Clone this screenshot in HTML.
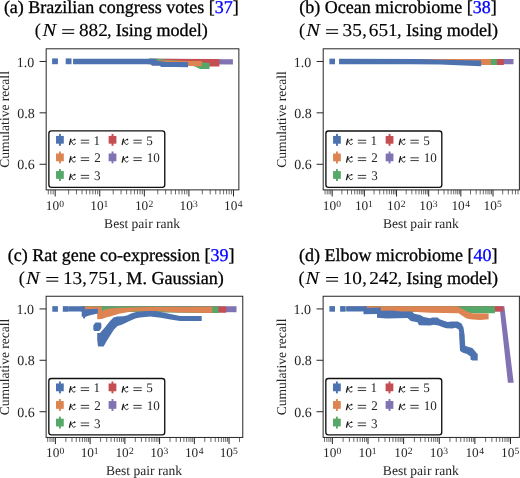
<!DOCTYPE html>
<html><head><meta charset="utf-8"><style>
html,body{margin:0;padding:0;background:#fff;}
svg{display:block;font-family:"Liberation Serif",serif;will-change:transform;text-rendering:geometricPrecision;}
.t{stroke:#000;stroke-width:0.3px;}
.tm{stroke:#000;stroke-width:0.12px;}
</style></head><body>
<svg width="520" height="478" viewBox="0 0 520 478">
<rect width="520" height="478" fill="#fff"/>
<text class="t" x="3.88" y="12.70" font-size="18.0" fill="#000">(a) Brazilian congress votes [<tspan fill="#0000FF" stroke="#0000FF">37</tspan>]</text>
<text x="34.67" y="36.10" font-size="18.2" fill="#000" class="tm">(</text>
<text transform="translate(42.40,36.10) scale(1.12,1)" font-size="18.3" font-style="italic" fill="#000" class="tm">N</text>
<line x1="62.20" y1="29.75" x2="74.20" y2="29.75" stroke="#000" stroke-width="1.05"/>
<line x1="62.20" y1="33.35" x2="74.20" y2="33.35" stroke="#000" stroke-width="1.05"/>
<text transform="translate(78.93,36.10) scale(1.06,1)" font-size="18.2" fill="#000" class="tm">882</text>
<text x="107.07" y="36.10" font-size="18.2" fill="#000" class="tm">,</text>
<text x="115.78" y="36.10" font-size="18.1" fill="#000" class="t">Ising model)</text>
<text class="t" x="299.28" y="12.70" font-size="18.0" fill="#000">(b) Ocean microbiome [<tspan fill="#0000FF" stroke="#0000FF">38</tspan>]</text>
<text x="298.97" y="36.10" font-size="18.2" fill="#000" class="tm">(</text>
<text transform="translate(306.30,36.10) scale(1.12,1)" font-size="18.3" font-style="italic" fill="#000" class="tm">N</text>
<line x1="326.10" y1="29.75" x2="338.10" y2="29.75" stroke="#000" stroke-width="1.05"/>
<line x1="326.10" y1="33.35" x2="338.10" y2="33.35" stroke="#000" stroke-width="1.05"/>
<text transform="translate(342.54,36.10) scale(1.06,1)" font-size="18.2" fill="#000" class="tm">35</text>
<text x="362.17" y="36.10" font-size="18.2" fill="#000" class="tm">,</text>
<text transform="translate(368.83,36.10) scale(1.06,1)" font-size="18.2" fill="#000" class="tm">651</text>
<text x="397.07" y="36.10" font-size="18.2" fill="#000" class="tm">,</text>
<text x="406.08" y="36.10" font-size="18.1" fill="#000" class="t">Ising model)</text>
<text class="t" x="7.68" y="260.50" font-size="18.0" fill="#000">(c) Rat gene co-expression [<tspan fill="#0000FF" stroke="#0000FF">39</tspan>]</text>
<text x="18.77" y="283.90" font-size="18.2" fill="#000" class="tm">(</text>
<text transform="translate(26.00,283.90) scale(1.12,1)" font-size="18.3" font-style="italic" fill="#000" class="tm">N</text>
<line x1="46.30" y1="277.55" x2="58.30" y2="277.55" stroke="#000" stroke-width="1.05"/>
<line x1="46.30" y1="281.15" x2="58.30" y2="281.15" stroke="#000" stroke-width="1.05"/>
<text transform="translate(62.96,283.90) scale(1.06,1)" font-size="18.2" fill="#000" class="tm">13</text>
<text x="82.27" y="283.90" font-size="18.2" fill="#000" class="tm">,</text>
<text transform="translate(88.55,283.90) scale(1.06,1)" font-size="18.2" fill="#000" class="tm">751</text>
<text x="117.87" y="283.90" font-size="18.2" fill="#000" class="tm">,</text>
<text x="126.36" y="283.90" font-size="18.1" fill="#000" class="t">M. Gaussian)</text>
<text class="t" x="299.08" y="260.50" font-size="18.0" fill="#000">(d) Elbow microbiome [<tspan fill="#0000FF" stroke="#0000FF">40</tspan>]</text>
<text x="298.47" y="283.90" font-size="18.2" fill="#000" class="tm">(</text>
<text transform="translate(305.40,283.90) scale(1.12,1)" font-size="18.3" font-style="italic" fill="#000" class="tm">N</text>
<line x1="326.10" y1="277.55" x2="338.10" y2="277.55" stroke="#000" stroke-width="1.05"/>
<line x1="326.10" y1="281.15" x2="338.10" y2="281.15" stroke="#000" stroke-width="1.05"/>
<text transform="translate(342.66,283.90) scale(1.06,1)" font-size="18.2" fill="#000" class="tm">10</text>
<text x="362.17" y="283.90" font-size="18.2" fill="#000" class="tm">,</text>
<text transform="translate(369.13,283.90) scale(1.06,1)" font-size="18.2" fill="#000" class="tm">242</text>
<text x="397.57" y="283.90" font-size="18.2" fill="#000" class="tm">,</text>
<text x="406.18" y="283.90" font-size="18.1" fill="#000" class="t">Ising model)</text>
<line x1="48.30" y1="189.87" x2="48.30" y2="194.37" stroke="#444" stroke-width="0.8"/>
<line x1="50.88" y1="189.87" x2="50.88" y2="194.37" stroke="#444" stroke-width="0.8"/>
<line x1="53.16" y1="189.87" x2="53.16" y2="194.37" stroke="#444" stroke-width="0.8"/>
<line x1="68.62" y1="189.87" x2="68.62" y2="194.37" stroke="#444" stroke-width="0.8"/>
<line x1="76.47" y1="189.87" x2="76.47" y2="194.37" stroke="#444" stroke-width="0.8"/>
<line x1="82.03" y1="189.87" x2="82.03" y2="194.37" stroke="#444" stroke-width="0.8"/>
<line x1="86.35" y1="189.87" x2="86.35" y2="194.37" stroke="#444" stroke-width="0.8"/>
<line x1="89.88" y1="189.87" x2="89.88" y2="194.37" stroke="#444" stroke-width="0.8"/>
<line x1="92.87" y1="189.87" x2="92.87" y2="194.37" stroke="#444" stroke-width="0.8"/>
<line x1="95.45" y1="189.87" x2="95.45" y2="194.37" stroke="#444" stroke-width="0.8"/>
<line x1="97.73" y1="189.87" x2="97.73" y2="194.37" stroke="#444" stroke-width="0.8"/>
<line x1="113.19" y1="189.87" x2="113.19" y2="194.37" stroke="#444" stroke-width="0.8"/>
<line x1="121.04" y1="189.87" x2="121.04" y2="194.37" stroke="#444" stroke-width="0.8"/>
<line x1="126.60" y1="189.87" x2="126.60" y2="194.37" stroke="#444" stroke-width="0.8"/>
<line x1="130.92" y1="189.87" x2="130.92" y2="194.37" stroke="#444" stroke-width="0.8"/>
<line x1="134.45" y1="189.87" x2="134.45" y2="194.37" stroke="#444" stroke-width="0.8"/>
<line x1="137.44" y1="189.87" x2="137.44" y2="194.37" stroke="#444" stroke-width="0.8"/>
<line x1="140.02" y1="189.87" x2="140.02" y2="194.37" stroke="#444" stroke-width="0.8"/>
<line x1="142.30" y1="189.87" x2="142.30" y2="194.37" stroke="#444" stroke-width="0.8"/>
<line x1="157.76" y1="189.87" x2="157.76" y2="194.37" stroke="#444" stroke-width="0.8"/>
<line x1="165.61" y1="189.87" x2="165.61" y2="194.37" stroke="#444" stroke-width="0.8"/>
<line x1="171.17" y1="189.87" x2="171.17" y2="194.37" stroke="#444" stroke-width="0.8"/>
<line x1="175.49" y1="189.87" x2="175.49" y2="194.37" stroke="#444" stroke-width="0.8"/>
<line x1="179.02" y1="189.87" x2="179.02" y2="194.37" stroke="#444" stroke-width="0.8"/>
<line x1="182.01" y1="189.87" x2="182.01" y2="194.37" stroke="#444" stroke-width="0.8"/>
<line x1="184.59" y1="189.87" x2="184.59" y2="194.37" stroke="#444" stroke-width="0.8"/>
<line x1="186.87" y1="189.87" x2="186.87" y2="194.37" stroke="#444" stroke-width="0.8"/>
<line x1="202.33" y1="189.87" x2="202.33" y2="194.37" stroke="#444" stroke-width="0.8"/>
<line x1="210.18" y1="189.87" x2="210.18" y2="194.37" stroke="#444" stroke-width="0.8"/>
<line x1="215.74" y1="189.87" x2="215.74" y2="194.37" stroke="#444" stroke-width="0.8"/>
<line x1="220.06" y1="189.87" x2="220.06" y2="194.37" stroke="#444" stroke-width="0.8"/>
<line x1="223.59" y1="189.87" x2="223.59" y2="194.37" stroke="#444" stroke-width="0.8"/>
<line x1="226.58" y1="189.87" x2="226.58" y2="194.37" stroke="#444" stroke-width="0.8"/>
<line x1="229.16" y1="189.87" x2="229.16" y2="194.37" stroke="#444" stroke-width="0.8"/>
<line x1="231.44" y1="189.87" x2="231.44" y2="194.37" stroke="#444" stroke-width="0.8"/>
<line x1="55.20" y1="189.87" x2="55.20" y2="196.47" stroke="#262626" stroke-width="1.0"/>
<text x="45.80" y="209.52" font-size="13.3" fill="#262626">10</text>
<text x="59.32" y="206.57" font-size="9.6" fill="#262626">0</text>
<line x1="99.77" y1="189.87" x2="99.77" y2="196.47" stroke="#262626" stroke-width="1.0"/>
<text x="90.37" y="209.52" font-size="13.3" fill="#262626">10</text>
<text x="103.41" y="206.57" font-size="9.6" fill="#262626">1</text>
<line x1="144.34" y1="189.87" x2="144.34" y2="196.47" stroke="#262626" stroke-width="1.0"/>
<text x="134.94" y="209.52" font-size="13.3" fill="#262626">10</text>
<text x="148.46" y="206.57" font-size="9.6" fill="#262626">2</text>
<line x1="188.91" y1="189.87" x2="188.91" y2="196.47" stroke="#262626" stroke-width="1.0"/>
<text x="179.51" y="209.52" font-size="13.3" fill="#262626">10</text>
<text x="192.93" y="206.57" font-size="9.6" fill="#262626">3</text>
<line x1="233.48" y1="189.87" x2="233.48" y2="196.47" stroke="#262626" stroke-width="1.0"/>
<text x="224.08" y="209.52" font-size="13.3" fill="#262626">10</text>
<text x="237.79" y="206.57" font-size="9.6" fill="#262626">4</text>
<line x1="39.57" y1="61.48" x2="46.17" y2="61.48" stroke="#262626" stroke-width="1.0"/>
<text x="16.64" y="66.68" font-size="14.0" fill="#262626">1.0</text>
<line x1="39.57" y1="112.83" x2="46.17" y2="112.83" stroke="#262626" stroke-width="1.0"/>
<text x="17.34" y="118.03" font-size="14.0" fill="#262626">0.8</text>
<line x1="39.57" y1="164.28" x2="46.17" y2="164.28" stroke="#262626" stroke-width="1.0"/>
<text x="17.34" y="169.48" font-size="14.0" fill="#262626">0.6</text>
<text x="142.12" y="227.77" font-size="13.55" text-anchor="middle" fill="#262626">Best pair rank</text>
<text x="0" y="0" font-size="13.55" text-anchor="middle" fill="#262626" transform="translate(9.30,119.44) rotate(-90)">Cumulative recall</text>
<line x1="325.07" y1="189.90" x2="325.07" y2="194.40" stroke="#444" stroke-width="0.8"/>
<line x1="327.22" y1="189.90" x2="327.22" y2="194.40" stroke="#444" stroke-width="0.8"/>
<line x1="329.08" y1="189.90" x2="329.08" y2="194.40" stroke="#444" stroke-width="0.8"/>
<line x1="330.73" y1="189.90" x2="330.73" y2="194.40" stroke="#444" stroke-width="0.8"/>
<line x1="341.88" y1="189.90" x2="341.88" y2="194.40" stroke="#444" stroke-width="0.8"/>
<line x1="347.54" y1="189.90" x2="347.54" y2="194.40" stroke="#444" stroke-width="0.8"/>
<line x1="351.56" y1="189.90" x2="351.56" y2="194.40" stroke="#444" stroke-width="0.8"/>
<line x1="354.68" y1="189.90" x2="354.68" y2="194.40" stroke="#444" stroke-width="0.8"/>
<line x1="357.23" y1="189.90" x2="357.23" y2="194.40" stroke="#444" stroke-width="0.8"/>
<line x1="359.38" y1="189.90" x2="359.38" y2="194.40" stroke="#444" stroke-width="0.8"/>
<line x1="361.24" y1="189.90" x2="361.24" y2="194.40" stroke="#444" stroke-width="0.8"/>
<line x1="362.89" y1="189.90" x2="362.89" y2="194.40" stroke="#444" stroke-width="0.8"/>
<line x1="374.04" y1="189.90" x2="374.04" y2="194.40" stroke="#444" stroke-width="0.8"/>
<line x1="379.70" y1="189.90" x2="379.70" y2="194.40" stroke="#444" stroke-width="0.8"/>
<line x1="383.72" y1="189.90" x2="383.72" y2="194.40" stroke="#444" stroke-width="0.8"/>
<line x1="386.84" y1="189.90" x2="386.84" y2="194.40" stroke="#444" stroke-width="0.8"/>
<line x1="389.39" y1="189.90" x2="389.39" y2="194.40" stroke="#444" stroke-width="0.8"/>
<line x1="391.54" y1="189.90" x2="391.54" y2="194.40" stroke="#444" stroke-width="0.8"/>
<line x1="393.40" y1="189.90" x2="393.40" y2="194.40" stroke="#444" stroke-width="0.8"/>
<line x1="395.05" y1="189.90" x2="395.05" y2="194.40" stroke="#444" stroke-width="0.8"/>
<line x1="406.20" y1="189.90" x2="406.20" y2="194.40" stroke="#444" stroke-width="0.8"/>
<line x1="411.86" y1="189.90" x2="411.86" y2="194.40" stroke="#444" stroke-width="0.8"/>
<line x1="415.88" y1="189.90" x2="415.88" y2="194.40" stroke="#444" stroke-width="0.8"/>
<line x1="419.00" y1="189.90" x2="419.00" y2="194.40" stroke="#444" stroke-width="0.8"/>
<line x1="421.55" y1="189.90" x2="421.55" y2="194.40" stroke="#444" stroke-width="0.8"/>
<line x1="423.70" y1="189.90" x2="423.70" y2="194.40" stroke="#444" stroke-width="0.8"/>
<line x1="425.56" y1="189.90" x2="425.56" y2="194.40" stroke="#444" stroke-width="0.8"/>
<line x1="427.21" y1="189.90" x2="427.21" y2="194.40" stroke="#444" stroke-width="0.8"/>
<line x1="438.36" y1="189.90" x2="438.36" y2="194.40" stroke="#444" stroke-width="0.8"/>
<line x1="444.02" y1="189.90" x2="444.02" y2="194.40" stroke="#444" stroke-width="0.8"/>
<line x1="448.04" y1="189.90" x2="448.04" y2="194.40" stroke="#444" stroke-width="0.8"/>
<line x1="451.16" y1="189.90" x2="451.16" y2="194.40" stroke="#444" stroke-width="0.8"/>
<line x1="453.71" y1="189.90" x2="453.71" y2="194.40" stroke="#444" stroke-width="0.8"/>
<line x1="455.86" y1="189.90" x2="455.86" y2="194.40" stroke="#444" stroke-width="0.8"/>
<line x1="457.72" y1="189.90" x2="457.72" y2="194.40" stroke="#444" stroke-width="0.8"/>
<line x1="459.37" y1="189.90" x2="459.37" y2="194.40" stroke="#444" stroke-width="0.8"/>
<line x1="470.52" y1="189.90" x2="470.52" y2="194.40" stroke="#444" stroke-width="0.8"/>
<line x1="476.18" y1="189.90" x2="476.18" y2="194.40" stroke="#444" stroke-width="0.8"/>
<line x1="480.20" y1="189.90" x2="480.20" y2="194.40" stroke="#444" stroke-width="0.8"/>
<line x1="483.32" y1="189.90" x2="483.32" y2="194.40" stroke="#444" stroke-width="0.8"/>
<line x1="485.87" y1="189.90" x2="485.87" y2="194.40" stroke="#444" stroke-width="0.8"/>
<line x1="488.02" y1="189.90" x2="488.02" y2="194.40" stroke="#444" stroke-width="0.8"/>
<line x1="489.88" y1="189.90" x2="489.88" y2="194.40" stroke="#444" stroke-width="0.8"/>
<line x1="491.53" y1="189.90" x2="491.53" y2="194.40" stroke="#444" stroke-width="0.8"/>
<line x1="502.68" y1="189.90" x2="502.68" y2="194.40" stroke="#444" stroke-width="0.8"/>
<line x1="508.34" y1="189.90" x2="508.34" y2="194.40" stroke="#444" stroke-width="0.8"/>
<line x1="512.36" y1="189.90" x2="512.36" y2="194.40" stroke="#444" stroke-width="0.8"/>
<line x1="515.48" y1="189.90" x2="515.48" y2="194.40" stroke="#444" stroke-width="0.8"/>
<line x1="518.03" y1="189.90" x2="518.03" y2="194.40" stroke="#444" stroke-width="0.8"/>
<line x1="332.20" y1="189.90" x2="332.20" y2="196.50" stroke="#262626" stroke-width="1.0"/>
<text x="322.80" y="209.55" font-size="13.3" fill="#262626">10</text>
<text x="336.32" y="206.60" font-size="9.6" fill="#262626">0</text>
<line x1="364.36" y1="189.90" x2="364.36" y2="196.50" stroke="#262626" stroke-width="1.0"/>
<text x="354.96" y="209.55" font-size="13.3" fill="#262626">10</text>
<text x="368.00" y="206.60" font-size="9.6" fill="#262626">1</text>
<line x1="396.52" y1="189.90" x2="396.52" y2="196.50" stroke="#262626" stroke-width="1.0"/>
<text x="387.12" y="209.55" font-size="13.3" fill="#262626">10</text>
<text x="400.64" y="206.60" font-size="9.6" fill="#262626">2</text>
<line x1="428.68" y1="189.90" x2="428.68" y2="196.50" stroke="#262626" stroke-width="1.0"/>
<text x="419.28" y="209.55" font-size="13.3" fill="#262626">10</text>
<text x="432.70" y="206.60" font-size="9.6" fill="#262626">3</text>
<line x1="460.84" y1="189.90" x2="460.84" y2="196.50" stroke="#262626" stroke-width="1.0"/>
<text x="451.44" y="209.55" font-size="13.3" fill="#262626">10</text>
<text x="465.15" y="206.60" font-size="9.6" fill="#262626">4</text>
<line x1="493.00" y1="189.90" x2="493.00" y2="196.50" stroke="#262626" stroke-width="1.0"/>
<text x="483.60" y="209.55" font-size="13.3" fill="#262626">10</text>
<text x="496.92" y="206.60" font-size="9.6" fill="#262626">5</text>
<line x1="316.60" y1="61.48" x2="323.20" y2="61.48" stroke="#262626" stroke-width="1.0"/>
<text x="293.67" y="66.68" font-size="14.0" fill="#262626">1.0</text>
<line x1="316.60" y1="112.83" x2="323.20" y2="112.83" stroke="#262626" stroke-width="1.0"/>
<text x="294.37" y="118.03" font-size="14.0" fill="#262626">0.8</text>
<line x1="316.60" y1="164.28" x2="323.20" y2="164.28" stroke="#262626" stroke-width="1.0"/>
<text x="294.37" y="169.48" font-size="14.0" fill="#262626">0.6</text>
<text x="420.90" y="227.80" font-size="13.55" text-anchor="middle" fill="#262626">Best pair rank</text>
<text x="0" y="0" font-size="13.55" text-anchor="middle" fill="#262626" transform="translate(286.33,119.45) rotate(-90)">Cumulative recall</text>
<line x1="47.70" y1="437.45" x2="47.70" y2="441.95" stroke="#444" stroke-width="0.8"/>
<line x1="50.02" y1="437.45" x2="50.02" y2="441.95" stroke="#444" stroke-width="0.8"/>
<line x1="52.03" y1="437.45" x2="52.03" y2="441.95" stroke="#444" stroke-width="0.8"/>
<line x1="53.81" y1="437.45" x2="53.81" y2="441.95" stroke="#444" stroke-width="0.8"/>
<line x1="65.85" y1="437.45" x2="65.85" y2="441.95" stroke="#444" stroke-width="0.8"/>
<line x1="71.97" y1="437.45" x2="71.97" y2="441.95" stroke="#444" stroke-width="0.8"/>
<line x1="76.31" y1="437.45" x2="76.31" y2="441.95" stroke="#444" stroke-width="0.8"/>
<line x1="79.68" y1="437.45" x2="79.68" y2="441.95" stroke="#444" stroke-width="0.8"/>
<line x1="82.43" y1="437.45" x2="82.43" y2="441.95" stroke="#444" stroke-width="0.8"/>
<line x1="84.75" y1="437.45" x2="84.75" y2="441.95" stroke="#444" stroke-width="0.8"/>
<line x1="86.76" y1="437.45" x2="86.76" y2="441.95" stroke="#444" stroke-width="0.8"/>
<line x1="88.54" y1="437.45" x2="88.54" y2="441.95" stroke="#444" stroke-width="0.8"/>
<line x1="100.58" y1="437.45" x2="100.58" y2="441.95" stroke="#444" stroke-width="0.8"/>
<line x1="106.70" y1="437.45" x2="106.70" y2="441.95" stroke="#444" stroke-width="0.8"/>
<line x1="111.04" y1="437.45" x2="111.04" y2="441.95" stroke="#444" stroke-width="0.8"/>
<line x1="114.41" y1="437.45" x2="114.41" y2="441.95" stroke="#444" stroke-width="0.8"/>
<line x1="117.16" y1="437.45" x2="117.16" y2="441.95" stroke="#444" stroke-width="0.8"/>
<line x1="119.48" y1="437.45" x2="119.48" y2="441.95" stroke="#444" stroke-width="0.8"/>
<line x1="121.49" y1="437.45" x2="121.49" y2="441.95" stroke="#444" stroke-width="0.8"/>
<line x1="123.27" y1="437.45" x2="123.27" y2="441.95" stroke="#444" stroke-width="0.8"/>
<line x1="135.31" y1="437.45" x2="135.31" y2="441.95" stroke="#444" stroke-width="0.8"/>
<line x1="141.43" y1="437.45" x2="141.43" y2="441.95" stroke="#444" stroke-width="0.8"/>
<line x1="145.77" y1="437.45" x2="145.77" y2="441.95" stroke="#444" stroke-width="0.8"/>
<line x1="149.14" y1="437.45" x2="149.14" y2="441.95" stroke="#444" stroke-width="0.8"/>
<line x1="151.89" y1="437.45" x2="151.89" y2="441.95" stroke="#444" stroke-width="0.8"/>
<line x1="154.21" y1="437.45" x2="154.21" y2="441.95" stroke="#444" stroke-width="0.8"/>
<line x1="156.22" y1="437.45" x2="156.22" y2="441.95" stroke="#444" stroke-width="0.8"/>
<line x1="158.00" y1="437.45" x2="158.00" y2="441.95" stroke="#444" stroke-width="0.8"/>
<line x1="170.04" y1="437.45" x2="170.04" y2="441.95" stroke="#444" stroke-width="0.8"/>
<line x1="176.16" y1="437.45" x2="176.16" y2="441.95" stroke="#444" stroke-width="0.8"/>
<line x1="180.50" y1="437.45" x2="180.50" y2="441.95" stroke="#444" stroke-width="0.8"/>
<line x1="183.87" y1="437.45" x2="183.87" y2="441.95" stroke="#444" stroke-width="0.8"/>
<line x1="186.62" y1="437.45" x2="186.62" y2="441.95" stroke="#444" stroke-width="0.8"/>
<line x1="188.94" y1="437.45" x2="188.94" y2="441.95" stroke="#444" stroke-width="0.8"/>
<line x1="190.95" y1="437.45" x2="190.95" y2="441.95" stroke="#444" stroke-width="0.8"/>
<line x1="192.73" y1="437.45" x2="192.73" y2="441.95" stroke="#444" stroke-width="0.8"/>
<line x1="204.77" y1="437.45" x2="204.77" y2="441.95" stroke="#444" stroke-width="0.8"/>
<line x1="210.89" y1="437.45" x2="210.89" y2="441.95" stroke="#444" stroke-width="0.8"/>
<line x1="215.23" y1="437.45" x2="215.23" y2="441.95" stroke="#444" stroke-width="0.8"/>
<line x1="218.60" y1="437.45" x2="218.60" y2="441.95" stroke="#444" stroke-width="0.8"/>
<line x1="221.35" y1="437.45" x2="221.35" y2="441.95" stroke="#444" stroke-width="0.8"/>
<line x1="223.67" y1="437.45" x2="223.67" y2="441.95" stroke="#444" stroke-width="0.8"/>
<line x1="225.68" y1="437.45" x2="225.68" y2="441.95" stroke="#444" stroke-width="0.8"/>
<line x1="227.46" y1="437.45" x2="227.46" y2="441.95" stroke="#444" stroke-width="0.8"/>
<line x1="239.50" y1="437.45" x2="239.50" y2="441.95" stroke="#444" stroke-width="0.8"/>
<line x1="55.40" y1="437.45" x2="55.40" y2="444.05" stroke="#262626" stroke-width="1.0"/>
<text x="46.00" y="457.10" font-size="13.3" fill="#262626">10</text>
<text x="59.52" y="454.15" font-size="9.6" fill="#262626">0</text>
<line x1="90.13" y1="437.45" x2="90.13" y2="444.05" stroke="#262626" stroke-width="1.0"/>
<text x="80.73" y="457.10" font-size="13.3" fill="#262626">10</text>
<text x="93.77" y="454.15" font-size="9.6" fill="#262626">1</text>
<line x1="124.86" y1="437.45" x2="124.86" y2="444.05" stroke="#262626" stroke-width="1.0"/>
<text x="115.46" y="457.10" font-size="13.3" fill="#262626">10</text>
<text x="128.98" y="454.15" font-size="9.6" fill="#262626">2</text>
<line x1="159.59" y1="437.45" x2="159.59" y2="444.05" stroke="#262626" stroke-width="1.0"/>
<text x="150.19" y="457.10" font-size="13.3" fill="#262626">10</text>
<text x="163.61" y="454.15" font-size="9.6" fill="#262626">3</text>
<line x1="194.32" y1="437.45" x2="194.32" y2="444.05" stroke="#262626" stroke-width="1.0"/>
<text x="184.92" y="457.10" font-size="13.3" fill="#262626">10</text>
<text x="198.63" y="454.15" font-size="9.6" fill="#262626">4</text>
<line x1="229.05" y1="437.45" x2="229.05" y2="444.05" stroke="#262626" stroke-width="1.0"/>
<text x="219.65" y="457.10" font-size="13.3" fill="#262626">10</text>
<text x="232.97" y="454.15" font-size="9.6" fill="#262626">5</text>
<line x1="39.53" y1="308.93" x2="46.13" y2="308.93" stroke="#262626" stroke-width="1.0"/>
<text x="16.60" y="314.13" font-size="14.0" fill="#262626">1.0</text>
<line x1="39.53" y1="360.28" x2="46.13" y2="360.28" stroke="#262626" stroke-width="1.0"/>
<text x="17.30" y="365.48" font-size="14.0" fill="#262626">0.8</text>
<line x1="39.53" y1="411.73" x2="46.13" y2="411.73" stroke="#262626" stroke-width="1.0"/>
<text x="17.30" y="416.93" font-size="14.0" fill="#262626">0.6</text>
<text x="144.05" y="475.35" font-size="13.55" text-anchor="middle" fill="#262626">Best pair rank</text>
<text x="0" y="0" font-size="13.55" text-anchor="middle" fill="#262626" transform="translate(9.26,366.95) rotate(-90)">Cumulative recall</text>
<line x1="324.50" y1="437.43" x2="324.50" y2="441.93" stroke="#444" stroke-width="0.8"/>
<line x1="326.88" y1="437.43" x2="326.88" y2="441.93" stroke="#444" stroke-width="0.8"/>
<line x1="328.95" y1="437.43" x2="328.95" y2="441.93" stroke="#444" stroke-width="0.8"/>
<line x1="330.77" y1="437.43" x2="330.77" y2="441.93" stroke="#444" stroke-width="0.8"/>
<line x1="343.12" y1="437.43" x2="343.12" y2="441.93" stroke="#444" stroke-width="0.8"/>
<line x1="349.40" y1="437.43" x2="349.40" y2="441.93" stroke="#444" stroke-width="0.8"/>
<line x1="353.85" y1="437.43" x2="353.85" y2="441.93" stroke="#444" stroke-width="0.8"/>
<line x1="357.30" y1="437.43" x2="357.30" y2="441.93" stroke="#444" stroke-width="0.8"/>
<line x1="360.12" y1="437.43" x2="360.12" y2="441.93" stroke="#444" stroke-width="0.8"/>
<line x1="362.50" y1="437.43" x2="362.50" y2="441.93" stroke="#444" stroke-width="0.8"/>
<line x1="364.57" y1="437.43" x2="364.57" y2="441.93" stroke="#444" stroke-width="0.8"/>
<line x1="366.39" y1="437.43" x2="366.39" y2="441.93" stroke="#444" stroke-width="0.8"/>
<line x1="378.74" y1="437.43" x2="378.74" y2="441.93" stroke="#444" stroke-width="0.8"/>
<line x1="385.02" y1="437.43" x2="385.02" y2="441.93" stroke="#444" stroke-width="0.8"/>
<line x1="389.47" y1="437.43" x2="389.47" y2="441.93" stroke="#444" stroke-width="0.8"/>
<line x1="392.92" y1="437.43" x2="392.92" y2="441.93" stroke="#444" stroke-width="0.8"/>
<line x1="395.74" y1="437.43" x2="395.74" y2="441.93" stroke="#444" stroke-width="0.8"/>
<line x1="398.12" y1="437.43" x2="398.12" y2="441.93" stroke="#444" stroke-width="0.8"/>
<line x1="400.19" y1="437.43" x2="400.19" y2="441.93" stroke="#444" stroke-width="0.8"/>
<line x1="402.01" y1="437.43" x2="402.01" y2="441.93" stroke="#444" stroke-width="0.8"/>
<line x1="414.36" y1="437.43" x2="414.36" y2="441.93" stroke="#444" stroke-width="0.8"/>
<line x1="420.64" y1="437.43" x2="420.64" y2="441.93" stroke="#444" stroke-width="0.8"/>
<line x1="425.09" y1="437.43" x2="425.09" y2="441.93" stroke="#444" stroke-width="0.8"/>
<line x1="428.54" y1="437.43" x2="428.54" y2="441.93" stroke="#444" stroke-width="0.8"/>
<line x1="431.36" y1="437.43" x2="431.36" y2="441.93" stroke="#444" stroke-width="0.8"/>
<line x1="433.74" y1="437.43" x2="433.74" y2="441.93" stroke="#444" stroke-width="0.8"/>
<line x1="435.81" y1="437.43" x2="435.81" y2="441.93" stroke="#444" stroke-width="0.8"/>
<line x1="437.63" y1="437.43" x2="437.63" y2="441.93" stroke="#444" stroke-width="0.8"/>
<line x1="449.98" y1="437.43" x2="449.98" y2="441.93" stroke="#444" stroke-width="0.8"/>
<line x1="456.26" y1="437.43" x2="456.26" y2="441.93" stroke="#444" stroke-width="0.8"/>
<line x1="460.71" y1="437.43" x2="460.71" y2="441.93" stroke="#444" stroke-width="0.8"/>
<line x1="464.16" y1="437.43" x2="464.16" y2="441.93" stroke="#444" stroke-width="0.8"/>
<line x1="466.98" y1="437.43" x2="466.98" y2="441.93" stroke="#444" stroke-width="0.8"/>
<line x1="469.36" y1="437.43" x2="469.36" y2="441.93" stroke="#444" stroke-width="0.8"/>
<line x1="471.43" y1="437.43" x2="471.43" y2="441.93" stroke="#444" stroke-width="0.8"/>
<line x1="473.25" y1="437.43" x2="473.25" y2="441.93" stroke="#444" stroke-width="0.8"/>
<line x1="485.60" y1="437.43" x2="485.60" y2="441.93" stroke="#444" stroke-width="0.8"/>
<line x1="491.88" y1="437.43" x2="491.88" y2="441.93" stroke="#444" stroke-width="0.8"/>
<line x1="496.33" y1="437.43" x2="496.33" y2="441.93" stroke="#444" stroke-width="0.8"/>
<line x1="499.78" y1="437.43" x2="499.78" y2="441.93" stroke="#444" stroke-width="0.8"/>
<line x1="502.60" y1="437.43" x2="502.60" y2="441.93" stroke="#444" stroke-width="0.8"/>
<line x1="504.98" y1="437.43" x2="504.98" y2="441.93" stroke="#444" stroke-width="0.8"/>
<line x1="507.05" y1="437.43" x2="507.05" y2="441.93" stroke="#444" stroke-width="0.8"/>
<line x1="508.87" y1="437.43" x2="508.87" y2="441.93" stroke="#444" stroke-width="0.8"/>
<line x1="332.40" y1="437.43" x2="332.40" y2="444.03" stroke="#262626" stroke-width="1.0"/>
<text x="323.00" y="457.08" font-size="13.3" fill="#262626">10</text>
<text x="336.52" y="454.13" font-size="9.6" fill="#262626">0</text>
<line x1="368.02" y1="437.43" x2="368.02" y2="444.03" stroke="#262626" stroke-width="1.0"/>
<text x="358.62" y="457.08" font-size="13.3" fill="#262626">10</text>
<text x="371.66" y="454.13" font-size="9.6" fill="#262626">1</text>
<line x1="403.64" y1="437.43" x2="403.64" y2="444.03" stroke="#262626" stroke-width="1.0"/>
<text x="394.24" y="457.08" font-size="13.3" fill="#262626">10</text>
<text x="407.76" y="454.13" font-size="9.6" fill="#262626">2</text>
<line x1="439.26" y1="437.43" x2="439.26" y2="444.03" stroke="#262626" stroke-width="1.0"/>
<text x="429.86" y="457.08" font-size="13.3" fill="#262626">10</text>
<text x="443.28" y="454.13" font-size="9.6" fill="#262626">3</text>
<line x1="474.88" y1="437.43" x2="474.88" y2="444.03" stroke="#262626" stroke-width="1.0"/>
<text x="465.48" y="457.08" font-size="13.3" fill="#262626">10</text>
<text x="479.19" y="454.13" font-size="9.6" fill="#262626">4</text>
<line x1="510.50" y1="437.43" x2="510.50" y2="444.03" stroke="#262626" stroke-width="1.0"/>
<text x="501.10" y="457.08" font-size="13.3" fill="#262626">10</text>
<text x="514.42" y="454.13" font-size="9.6" fill="#262626">5</text>
<line x1="316.53" y1="308.93" x2="323.13" y2="308.93" stroke="#262626" stroke-width="1.0"/>
<text x="293.60" y="314.13" font-size="14.0" fill="#262626">1.0</text>
<line x1="316.53" y1="360.28" x2="323.13" y2="360.28" stroke="#262626" stroke-width="1.0"/>
<text x="294.30" y="365.48" font-size="14.0" fill="#262626">0.8</text>
<line x1="316.53" y1="411.73" x2="323.13" y2="411.73" stroke="#262626" stroke-width="1.0"/>
<text x="294.30" y="416.93" font-size="14.0" fill="#262626">0.6</text>
<text x="420.87" y="475.33" font-size="13.55" text-anchor="middle" fill="#262626">Best pair rank</text>
<text x="0" y="0" font-size="13.55" text-anchor="middle" fill="#262626" transform="translate(286.26,366.94) rotate(-90)">Cumulative recall</text>
<polygon points="73.30,59.40 145.00,59.40 150.00,58.85 232.90,59.20 232.90,64.60 150.00,64.00 145.00,63.50 73.30,63.50" fill="#8172B3"/>
<polygon points="73.30,59.40 145.00,59.40 150.00,58.85 219.40,58.90 219.40,66.60 205.00,66.60 195.00,64.50 150.00,64.00 145.00,63.50 73.30,63.50" fill="#C44E52"/>
<polygon points="73.30,59.40 145.00,59.40 150.00,58.85 158.00,58.85 165.00,59.80 180.00,60.80 190.00,61.50 201.00,62.30 209.50,63.10 209.50,68.90 200.00,68.90 196.00,67.00 190.00,64.50 150.00,64.00 145.00,63.50 73.30,63.50" fill="#55A868"/>
<polygon points="73.30,59.40 145.00,59.40 150.00,58.85 157.00,60.20 188.00,61.00 201.90,61.00 201.90,66.30 188.00,66.10 160.00,65.50 150.00,64.40 145.00,63.50 73.30,63.50" fill="#DD8452"/>
<polygon points="73.30,58.65 155.40,58.65 157.50,60.80 166.00,61.90 188.00,62.00 188.00,67.20 175.00,67.10 161.00,67.10 160.00,65.80 152.00,65.70 150.80,64.20 73.30,64.20" fill="#4C72B0"/>
<rect x="52.10" y="58.40" width="5.80" height="5.80" fill="#4C72B0"/>
<rect x="65.70" y="58.40" width="5.80" height="5.80" fill="#4C72B0"/>
<polygon points="339.10,59.30 412.00,59.30 420.00,58.90 513.50,58.90 513.50,64.30 485.00,64.30 475.00,63.60 339.10,63.60" fill="#8172B3"/>
<polygon points="339.10,59.30 412.00,59.30 420.00,58.90 503.80,58.90 503.80,65.00 485.00,65.00 475.00,63.60 339.10,63.60" fill="#C44E52"/>
<polygon points="339.10,59.30 412.00,59.30 420.00,58.90 496.90,58.90 496.90,65.00 485.00,65.00 475.00,63.60 339.10,63.60" fill="#55A868"/>
<polygon points="339.10,59.30 412.00,59.30 420.00,58.90 490.80,58.90 490.80,65.10 485.00,65.10 475.00,63.60 339.10,63.60" fill="#DD8452"/>
<polygon points="339.10,58.70 420.00,58.90 440.00,59.70 481.20,60.50 481.20,66.20 440.00,64.60 411.00,64.30 339.10,64.20" fill="#4C72B0"/>
<rect x="329.40" y="58.65" width="5.60" height="5.60" fill="#4C72B0"/>
<polygon points="68.50,306.90 80.00,306.90 84.70,306.30 236.50,306.30 236.50,312.30 84.70,311.60 80.00,310.90 68.50,310.90" fill="#8172B3"/>
<polygon points="68.50,306.90 80.00,306.90 84.70,306.50 226.20,306.50 226.20,312.70 84.70,311.60 80.00,310.90 68.50,310.90" fill="#C44E52"/>
<polygon points="68.50,306.90 80.00,306.90 84.70,306.30 218.40,306.50 218.40,313.00 84.70,311.60 80.00,310.90 68.50,310.90" fill="#55A868"/>
<polygon points="68.50,306.90 80.00,306.90 84.70,306.45 101.80,306.45 101.80,311.50 105.00,309.30 110.00,308.50 120.00,307.80 130.00,307.40 140.00,307.20 150.00,307.00 160.00,306.90 212.30,306.80 212.30,313.00 180.00,312.40 160.00,311.30 145.00,311.20 132.00,311.60 126.00,312.40 120.00,313.60 115.00,315.00 110.00,316.40 106.00,317.60 102.00,319.00 97.20,319.20 97.20,312.60 84.70,311.30 80.00,310.90 68.50,310.90" fill="#DD8452"/>
<polygon points="68.50,306.30 84.70,306.30 85.00,309.30 97.90,308.80 97.90,313.60 90.00,315.30 85.50,316.70 84.80,318.50 83.40,318.50 82.80,316.70 81.70,316.50 81.70,311.40 68.50,311.40" fill="#4C72B0"/>
<polygon points="95.50,322.50 100.50,322.50 101.40,324.00 101.40,328.00 99.30,331.00 94.30,331.00 93.30,329.50 93.30,325.50" fill="#4C72B0"/>
<polygon points="97.20,333.10 100.00,333.00 105.50,326.70 110.00,321.00 113.50,317.50 117.00,316.50 123.00,316.20 127.00,315.40 131.00,313.50 136.00,312.00 141.50,311.60 147.30,311.10 155.00,311.10 160.80,311.90 170.40,314.00 180.00,316.00 185.00,316.00 201.70,316.00 201.70,320.90 185.00,320.90 180.00,321.00 170.40,319.50 160.80,317.80 150.00,316.60 140.00,317.40 136.00,318.30 133.00,319.50 129.00,321.20 125.00,323.20 121.00,325.00 117.50,326.00 114.00,329.60 110.50,335.00 107.00,340.60 103.60,346.60 98.00,346.60 97.20,340.00" fill="#4C72B0"/>
<rect x="52.30" y="306.15" width="5.60" height="5.60" fill="#4C72B0"/>
<rect x="62.80" y="306.15" width="5.60" height="5.60" fill="#4C72B0"/>
<polygon points="346.40,306.80 362.00,306.80 366.90,306.30 504.30,306.30 513.70,382.70 507.90,382.70 500.10,311.50 366.90,311.50 362.00,310.80 346.40,310.80" fill="#8172B3"/>
<polygon points="346.40,306.80 362.00,306.80 366.90,306.30 503.30,306.30 503.30,311.50 366.90,311.50 362.00,310.80 346.40,310.80" fill="#C44E52"/>
<polygon points="346.40,306.80 362.00,306.80 366.90,306.30 494.90,306.30 494.90,313.20 470.00,313.00 461.00,311.80 366.90,311.50 362.00,310.80 346.40,310.80" fill="#55A868"/>
<polygon points="346.40,306.80 362.00,306.80 366.90,306.35 457.00,306.35 462.00,308.80 466.00,311.00 472.00,313.20 488.60,313.40 488.60,319.30 480.00,319.90 470.00,319.30 466.00,318.20 462.00,315.50 458.50,313.20 430.00,312.80 412.00,311.80 366.90,311.50 362.00,310.80 346.40,310.80" fill="#DD8452"/>
<polygon points="346.40,306.20 366.90,306.20 366.90,308.10 380.80,307.60 380.80,310.80 392.00,310.60 400.80,311.40 412.00,311.40 414.20,313.70 420.20,315.10 423.80,317.00 430.00,318.20 432.30,317.40 437.70,317.40 439.60,319.30 443.80,320.80 447.70,322.00 451.50,321.60 457.70,321.60 461.50,323.50 463.50,327.40 464.60,335.00 465.20,345.80 467.00,346.50 472.30,347.90 474.60,350.40 476.30,352.80 477.70,354.10 477.70,360.50 472.30,360.50 470.50,359.60 470.50,356.50 467.00,354.10 463.00,352.80 460.50,351.30 460.00,350.40 459.10,335.00 459.20,332.00 458.50,329.30 455.40,327.80 452.30,328.50 446.20,328.20 442.30,327.00 438.50,325.50 433.80,324.70 430.00,325.50 419.00,325.20 417.50,322.30 410.80,320.90 407.50,318.00 387.00,318.50 377.00,317.80 377.00,313.90 363.50,314.30 363.50,311.40 346.40,311.40" fill="#4C72B0"/>
<rect x="329.40" y="306.10" width="5.60" height="5.60" fill="#4C72B0"/>
<rect x="340.10" y="306.10" width="5.60" height="5.60" fill="#4C72B0"/>
<rect x="48.87" y="130.94" width="115.91" height="56.41" rx="2.6" fill="#fff" stroke="#111" stroke-width="1.35"/>
<rect x="56.04" y="135.92" width="7.76" height="7.76" fill="#4C72B0"/>
<rect x="58.97" y="133.90" width="1.90" height="11.90" fill="#4C72B0"/>
<g transform="translate(68.97,144.50)" fill="none" stroke="#1a1a1a" stroke-linecap="round"><path d="M0.55,-0.05 L1.8,-5.35" stroke-width="1.35"/><path d="M1.6,-2.7 C3,-3.3 4.2,-4.8 5.6,-5.3" stroke-width="0.85"/><circle cx="5.75" cy="-4.95" r="0.85" fill="#1a1a1a" stroke="none"/><path d="M2.4,-3.0 C3.4,-2.4 3.3,-0.6 4.2,-0.15 C5.0,0.25 5.9,-0.2 6.5,-0.9" stroke-width="0.95"/></g>
<line x1="80.77" y1="140.22" x2="89.17" y2="140.22" stroke="#262626" stroke-width="0.9"/>
<line x1="80.77" y1="142.97" x2="89.17" y2="142.97" stroke="#262626" stroke-width="0.9"/>
<text x="93.59" y="144.80" font-size="13.1" fill="#262626">1</text>
<rect x="56.04" y="153.50" width="7.76" height="7.76" fill="#DD8452"/>
<rect x="58.97" y="151.48" width="1.90" height="11.90" fill="#DD8452"/>
<g transform="translate(68.97,162.08)" fill="none" stroke="#1a1a1a" stroke-linecap="round"><path d="M0.55,-0.05 L1.8,-5.35" stroke-width="1.35"/><path d="M1.6,-2.7 C3,-3.3 4.2,-4.8 5.6,-5.3" stroke-width="0.85"/><circle cx="5.75" cy="-4.95" r="0.85" fill="#1a1a1a" stroke="none"/><path d="M2.4,-3.0 C3.4,-2.4 3.3,-0.6 4.2,-0.15 C5.0,0.25 5.9,-0.2 6.5,-0.9" stroke-width="0.95"/></g>
<line x1="80.77" y1="157.80" x2="89.17" y2="157.80" stroke="#262626" stroke-width="0.9"/>
<line x1="80.77" y1="160.55" x2="89.17" y2="160.55" stroke="#262626" stroke-width="0.9"/>
<text x="94.25" y="162.38" font-size="13.1" fill="#262626">2</text>
<rect x="56.04" y="171.08" width="7.76" height="7.76" fill="#55A868"/>
<rect x="58.97" y="169.06" width="1.90" height="11.90" fill="#55A868"/>
<g transform="translate(68.97,179.66)" fill="none" stroke="#1a1a1a" stroke-linecap="round"><path d="M0.55,-0.05 L1.8,-5.35" stroke-width="1.35"/><path d="M1.6,-2.7 C3,-3.3 4.2,-4.8 5.6,-5.3" stroke-width="0.85"/><circle cx="5.75" cy="-4.95" r="0.85" fill="#1a1a1a" stroke="none"/><path d="M2.4,-3.0 C3.4,-2.4 3.3,-0.6 4.2,-0.15 C5.0,0.25 5.9,-0.2 6.5,-0.9" stroke-width="0.95"/></g>
<line x1="80.77" y1="175.38" x2="89.17" y2="175.38" stroke="#262626" stroke-width="0.9"/>
<line x1="80.77" y1="178.13" x2="89.17" y2="178.13" stroke="#262626" stroke-width="0.9"/>
<text x="94.12" y="179.96" font-size="13.1" fill="#262626">3</text>
<rect x="108.64" y="135.92" width="7.76" height="7.76" fill="#C44E52"/>
<rect x="111.57" y="133.90" width="1.90" height="11.90" fill="#C44E52"/>
<g transform="translate(121.67,144.50)" fill="none" stroke="#1a1a1a" stroke-linecap="round"><path d="M0.55,-0.05 L1.8,-5.35" stroke-width="1.35"/><path d="M1.6,-2.7 C3,-3.3 4.2,-4.8 5.6,-5.3" stroke-width="0.85"/><circle cx="5.75" cy="-4.95" r="0.85" fill="#1a1a1a" stroke="none"/><path d="M2.4,-3.0 C3.4,-2.4 3.3,-0.6 4.2,-0.15 C5.0,0.25 5.9,-0.2 6.5,-0.9" stroke-width="0.95"/></g>
<line x1="133.37" y1="140.22" x2="141.77" y2="140.22" stroke="#262626" stroke-width="0.9"/>
<line x1="133.37" y1="142.97" x2="141.77" y2="142.97" stroke="#262626" stroke-width="0.9"/>
<text x="146.28" y="144.80" font-size="13.1" fill="#262626">5</text>
<rect x="108.64" y="153.50" width="7.76" height="7.76" fill="#8172B3"/>
<rect x="111.57" y="151.48" width="1.90" height="11.90" fill="#8172B3"/>
<g transform="translate(121.67,162.08)" fill="none" stroke="#1a1a1a" stroke-linecap="round"><path d="M0.55,-0.05 L1.8,-5.35" stroke-width="1.35"/><path d="M1.6,-2.7 C3,-3.3 4.2,-4.8 5.6,-5.3" stroke-width="0.85"/><circle cx="5.75" cy="-4.95" r="0.85" fill="#1a1a1a" stroke="none"/><path d="M2.4,-3.0 C3.4,-2.4 3.3,-0.6 4.2,-0.15 C5.0,0.25 5.9,-0.2 6.5,-0.9" stroke-width="0.95"/></g>
<line x1="133.37" y1="157.80" x2="141.77" y2="157.80" stroke="#262626" stroke-width="0.9"/>
<line x1="133.37" y1="160.55" x2="141.77" y2="160.55" stroke="#262626" stroke-width="0.9"/>
<text x="146.79" y="162.38" font-size="13.1" fill="#262626">10</text>
<rect x="325.90" y="130.97" width="115.91" height="56.41" rx="2.6" fill="#fff" stroke="#111" stroke-width="1.35"/>
<rect x="333.07" y="135.95" width="7.76" height="7.76" fill="#4C72B0"/>
<rect x="336.00" y="133.93" width="1.90" height="11.90" fill="#4C72B0"/>
<g transform="translate(346.00,144.53)" fill="none" stroke="#1a1a1a" stroke-linecap="round"><path d="M0.55,-0.05 L1.8,-5.35" stroke-width="1.35"/><path d="M1.6,-2.7 C3,-3.3 4.2,-4.8 5.6,-5.3" stroke-width="0.85"/><circle cx="5.75" cy="-4.95" r="0.85" fill="#1a1a1a" stroke="none"/><path d="M2.4,-3.0 C3.4,-2.4 3.3,-0.6 4.2,-0.15 C5.0,0.25 5.9,-0.2 6.5,-0.9" stroke-width="0.95"/></g>
<line x1="357.80" y1="140.25" x2="366.20" y2="140.25" stroke="#262626" stroke-width="0.9"/>
<line x1="357.80" y1="143.00" x2="366.20" y2="143.00" stroke="#262626" stroke-width="0.9"/>
<text x="370.62" y="144.83" font-size="13.1" fill="#262626">1</text>
<rect x="333.07" y="153.53" width="7.76" height="7.76" fill="#DD8452"/>
<rect x="336.00" y="151.51" width="1.90" height="11.90" fill="#DD8452"/>
<g transform="translate(346.00,162.11)" fill="none" stroke="#1a1a1a" stroke-linecap="round"><path d="M0.55,-0.05 L1.8,-5.35" stroke-width="1.35"/><path d="M1.6,-2.7 C3,-3.3 4.2,-4.8 5.6,-5.3" stroke-width="0.85"/><circle cx="5.75" cy="-4.95" r="0.85" fill="#1a1a1a" stroke="none"/><path d="M2.4,-3.0 C3.4,-2.4 3.3,-0.6 4.2,-0.15 C5.0,0.25 5.9,-0.2 6.5,-0.9" stroke-width="0.95"/></g>
<line x1="357.80" y1="157.83" x2="366.20" y2="157.83" stroke="#262626" stroke-width="0.9"/>
<line x1="357.80" y1="160.58" x2="366.20" y2="160.58" stroke="#262626" stroke-width="0.9"/>
<text x="371.28" y="162.41" font-size="13.1" fill="#262626">2</text>
<rect x="333.07" y="171.11" width="7.76" height="7.76" fill="#55A868"/>
<rect x="336.00" y="169.09" width="1.90" height="11.90" fill="#55A868"/>
<g transform="translate(346.00,179.69)" fill="none" stroke="#1a1a1a" stroke-linecap="round"><path d="M0.55,-0.05 L1.8,-5.35" stroke-width="1.35"/><path d="M1.6,-2.7 C3,-3.3 4.2,-4.8 5.6,-5.3" stroke-width="0.85"/><circle cx="5.75" cy="-4.95" r="0.85" fill="#1a1a1a" stroke="none"/><path d="M2.4,-3.0 C3.4,-2.4 3.3,-0.6 4.2,-0.15 C5.0,0.25 5.9,-0.2 6.5,-0.9" stroke-width="0.95"/></g>
<line x1="357.80" y1="175.41" x2="366.20" y2="175.41" stroke="#262626" stroke-width="0.9"/>
<line x1="357.80" y1="178.16" x2="366.20" y2="178.16" stroke="#262626" stroke-width="0.9"/>
<text x="371.14" y="179.99" font-size="13.1" fill="#262626">3</text>
<rect x="385.67" y="135.95" width="7.76" height="7.76" fill="#C44E52"/>
<rect x="388.60" y="133.93" width="1.90" height="11.90" fill="#C44E52"/>
<g transform="translate(398.70,144.53)" fill="none" stroke="#1a1a1a" stroke-linecap="round"><path d="M0.55,-0.05 L1.8,-5.35" stroke-width="1.35"/><path d="M1.6,-2.7 C3,-3.3 4.2,-4.8 5.6,-5.3" stroke-width="0.85"/><circle cx="5.75" cy="-4.95" r="0.85" fill="#1a1a1a" stroke="none"/><path d="M2.4,-3.0 C3.4,-2.4 3.3,-0.6 4.2,-0.15 C5.0,0.25 5.9,-0.2 6.5,-0.9" stroke-width="0.95"/></g>
<line x1="410.40" y1="140.25" x2="418.80" y2="140.25" stroke="#262626" stroke-width="0.9"/>
<line x1="410.40" y1="143.00" x2="418.80" y2="143.00" stroke="#262626" stroke-width="0.9"/>
<text x="423.31" y="144.83" font-size="13.1" fill="#262626">5</text>
<rect x="385.67" y="153.53" width="7.76" height="7.76" fill="#8172B3"/>
<rect x="388.60" y="151.51" width="1.90" height="11.90" fill="#8172B3"/>
<g transform="translate(398.70,162.11)" fill="none" stroke="#1a1a1a" stroke-linecap="round"><path d="M0.55,-0.05 L1.8,-5.35" stroke-width="1.35"/><path d="M1.6,-2.7 C3,-3.3 4.2,-4.8 5.6,-5.3" stroke-width="0.85"/><circle cx="5.75" cy="-4.95" r="0.85" fill="#1a1a1a" stroke="none"/><path d="M2.4,-3.0 C3.4,-2.4 3.3,-0.6 4.2,-0.15 C5.0,0.25 5.9,-0.2 6.5,-0.9" stroke-width="0.95"/></g>
<line x1="410.40" y1="157.83" x2="418.80" y2="157.83" stroke="#262626" stroke-width="0.9"/>
<line x1="410.40" y1="160.58" x2="418.80" y2="160.58" stroke="#262626" stroke-width="0.9"/>
<text x="423.82" y="162.41" font-size="13.1" fill="#262626">10</text>
<rect x="48.83" y="378.52" width="115.91" height="56.41" rx="2.6" fill="#fff" stroke="#111" stroke-width="1.35"/>
<rect x="56.00" y="383.50" width="7.76" height="7.76" fill="#4C72B0"/>
<rect x="58.93" y="381.48" width="1.90" height="11.90" fill="#4C72B0"/>
<g transform="translate(68.93,392.08)" fill="none" stroke="#1a1a1a" stroke-linecap="round"><path d="M0.55,-0.05 L1.8,-5.35" stroke-width="1.35"/><path d="M1.6,-2.7 C3,-3.3 4.2,-4.8 5.6,-5.3" stroke-width="0.85"/><circle cx="5.75" cy="-4.95" r="0.85" fill="#1a1a1a" stroke="none"/><path d="M2.4,-3.0 C3.4,-2.4 3.3,-0.6 4.2,-0.15 C5.0,0.25 5.9,-0.2 6.5,-0.9" stroke-width="0.95"/></g>
<line x1="80.73" y1="387.81" x2="89.13" y2="387.81" stroke="#262626" stroke-width="0.9"/>
<line x1="80.73" y1="390.56" x2="89.13" y2="390.56" stroke="#262626" stroke-width="0.9"/>
<text x="93.55" y="392.38" font-size="13.1" fill="#262626">1</text>
<rect x="56.00" y="401.08" width="7.76" height="7.76" fill="#DD8452"/>
<rect x="58.93" y="399.06" width="1.90" height="11.90" fill="#DD8452"/>
<g transform="translate(68.93,409.66)" fill="none" stroke="#1a1a1a" stroke-linecap="round"><path d="M0.55,-0.05 L1.8,-5.35" stroke-width="1.35"/><path d="M1.6,-2.7 C3,-3.3 4.2,-4.8 5.6,-5.3" stroke-width="0.85"/><circle cx="5.75" cy="-4.95" r="0.85" fill="#1a1a1a" stroke="none"/><path d="M2.4,-3.0 C3.4,-2.4 3.3,-0.6 4.2,-0.15 C5.0,0.25 5.9,-0.2 6.5,-0.9" stroke-width="0.95"/></g>
<line x1="80.73" y1="405.38" x2="89.13" y2="405.38" stroke="#262626" stroke-width="0.9"/>
<line x1="80.73" y1="408.13" x2="89.13" y2="408.13" stroke="#262626" stroke-width="0.9"/>
<text x="94.21" y="409.96" font-size="13.1" fill="#262626">2</text>
<rect x="56.00" y="418.66" width="7.76" height="7.76" fill="#55A868"/>
<rect x="58.93" y="416.64" width="1.90" height="11.90" fill="#55A868"/>
<g transform="translate(68.93,427.24)" fill="none" stroke="#1a1a1a" stroke-linecap="round"><path d="M0.55,-0.05 L1.8,-5.35" stroke-width="1.35"/><path d="M1.6,-2.7 C3,-3.3 4.2,-4.8 5.6,-5.3" stroke-width="0.85"/><circle cx="5.75" cy="-4.95" r="0.85" fill="#1a1a1a" stroke="none"/><path d="M2.4,-3.0 C3.4,-2.4 3.3,-0.6 4.2,-0.15 C5.0,0.25 5.9,-0.2 6.5,-0.9" stroke-width="0.95"/></g>
<line x1="80.73" y1="422.96" x2="89.13" y2="422.96" stroke="#262626" stroke-width="0.9"/>
<line x1="80.73" y1="425.71" x2="89.13" y2="425.71" stroke="#262626" stroke-width="0.9"/>
<text x="94.08" y="427.54" font-size="13.1" fill="#262626">3</text>
<rect x="108.60" y="383.50" width="7.76" height="7.76" fill="#C44E52"/>
<rect x="111.53" y="381.48" width="1.90" height="11.90" fill="#C44E52"/>
<g transform="translate(121.63,392.08)" fill="none" stroke="#1a1a1a" stroke-linecap="round"><path d="M0.55,-0.05 L1.8,-5.35" stroke-width="1.35"/><path d="M1.6,-2.7 C3,-3.3 4.2,-4.8 5.6,-5.3" stroke-width="0.85"/><circle cx="5.75" cy="-4.95" r="0.85" fill="#1a1a1a" stroke="none"/><path d="M2.4,-3.0 C3.4,-2.4 3.3,-0.6 4.2,-0.15 C5.0,0.25 5.9,-0.2 6.5,-0.9" stroke-width="0.95"/></g>
<line x1="133.33" y1="387.81" x2="141.73" y2="387.81" stroke="#262626" stroke-width="0.9"/>
<line x1="133.33" y1="390.56" x2="141.73" y2="390.56" stroke="#262626" stroke-width="0.9"/>
<text x="146.24" y="392.38" font-size="13.1" fill="#262626">5</text>
<rect x="108.60" y="401.08" width="7.76" height="7.76" fill="#8172B3"/>
<rect x="111.53" y="399.06" width="1.90" height="11.90" fill="#8172B3"/>
<g transform="translate(121.63,409.66)" fill="none" stroke="#1a1a1a" stroke-linecap="round"><path d="M0.55,-0.05 L1.8,-5.35" stroke-width="1.35"/><path d="M1.6,-2.7 C3,-3.3 4.2,-4.8 5.6,-5.3" stroke-width="0.85"/><circle cx="5.75" cy="-4.95" r="0.85" fill="#1a1a1a" stroke="none"/><path d="M2.4,-3.0 C3.4,-2.4 3.3,-0.6 4.2,-0.15 C5.0,0.25 5.9,-0.2 6.5,-0.9" stroke-width="0.95"/></g>
<line x1="133.33" y1="405.38" x2="141.73" y2="405.38" stroke="#262626" stroke-width="0.9"/>
<line x1="133.33" y1="408.13" x2="141.73" y2="408.13" stroke="#262626" stroke-width="0.9"/>
<text x="146.75" y="409.96" font-size="13.1" fill="#262626">10</text>
<rect x="325.83" y="378.50" width="115.91" height="56.41" rx="2.6" fill="#fff" stroke="#111" stroke-width="1.35"/>
<rect x="333.00" y="383.48" width="7.76" height="7.76" fill="#4C72B0"/>
<rect x="335.93" y="381.46" width="1.90" height="11.90" fill="#4C72B0"/>
<g transform="translate(345.93,392.06)" fill="none" stroke="#1a1a1a" stroke-linecap="round"><path d="M0.55,-0.05 L1.8,-5.35" stroke-width="1.35"/><path d="M1.6,-2.7 C3,-3.3 4.2,-4.8 5.6,-5.3" stroke-width="0.85"/><circle cx="5.75" cy="-4.95" r="0.85" fill="#1a1a1a" stroke="none"/><path d="M2.4,-3.0 C3.4,-2.4 3.3,-0.6 4.2,-0.15 C5.0,0.25 5.9,-0.2 6.5,-0.9" stroke-width="0.95"/></g>
<line x1="357.73" y1="387.79" x2="366.13" y2="387.79" stroke="#262626" stroke-width="0.9"/>
<line x1="357.73" y1="390.54" x2="366.13" y2="390.54" stroke="#262626" stroke-width="0.9"/>
<text x="370.55" y="392.36" font-size="13.1" fill="#262626">1</text>
<rect x="333.00" y="401.06" width="7.76" height="7.76" fill="#DD8452"/>
<rect x="335.93" y="399.04" width="1.90" height="11.90" fill="#DD8452"/>
<g transform="translate(345.93,409.64)" fill="none" stroke="#1a1a1a" stroke-linecap="round"><path d="M0.55,-0.05 L1.8,-5.35" stroke-width="1.35"/><path d="M1.6,-2.7 C3,-3.3 4.2,-4.8 5.6,-5.3" stroke-width="0.85"/><circle cx="5.75" cy="-4.95" r="0.85" fill="#1a1a1a" stroke="none"/><path d="M2.4,-3.0 C3.4,-2.4 3.3,-0.6 4.2,-0.15 C5.0,0.25 5.9,-0.2 6.5,-0.9" stroke-width="0.95"/></g>
<line x1="357.73" y1="405.37" x2="366.13" y2="405.37" stroke="#262626" stroke-width="0.9"/>
<line x1="357.73" y1="408.12" x2="366.13" y2="408.12" stroke="#262626" stroke-width="0.9"/>
<text x="371.21" y="409.94" font-size="13.1" fill="#262626">2</text>
<rect x="333.00" y="418.64" width="7.76" height="7.76" fill="#55A868"/>
<rect x="335.93" y="416.62" width="1.90" height="11.90" fill="#55A868"/>
<g transform="translate(345.93,427.22)" fill="none" stroke="#1a1a1a" stroke-linecap="round"><path d="M0.55,-0.05 L1.8,-5.35" stroke-width="1.35"/><path d="M1.6,-2.7 C3,-3.3 4.2,-4.8 5.6,-5.3" stroke-width="0.85"/><circle cx="5.75" cy="-4.95" r="0.85" fill="#1a1a1a" stroke="none"/><path d="M2.4,-3.0 C3.4,-2.4 3.3,-0.6 4.2,-0.15 C5.0,0.25 5.9,-0.2 6.5,-0.9" stroke-width="0.95"/></g>
<line x1="357.73" y1="422.94" x2="366.13" y2="422.94" stroke="#262626" stroke-width="0.9"/>
<line x1="357.73" y1="425.69" x2="366.13" y2="425.69" stroke="#262626" stroke-width="0.9"/>
<text x="371.07" y="427.52" font-size="13.1" fill="#262626">3</text>
<rect x="385.60" y="383.48" width="7.76" height="7.76" fill="#C44E52"/>
<rect x="388.53" y="381.46" width="1.90" height="11.90" fill="#C44E52"/>
<g transform="translate(398.63,392.06)" fill="none" stroke="#1a1a1a" stroke-linecap="round"><path d="M0.55,-0.05 L1.8,-5.35" stroke-width="1.35"/><path d="M1.6,-2.7 C3,-3.3 4.2,-4.8 5.6,-5.3" stroke-width="0.85"/><circle cx="5.75" cy="-4.95" r="0.85" fill="#1a1a1a" stroke="none"/><path d="M2.4,-3.0 C3.4,-2.4 3.3,-0.6 4.2,-0.15 C5.0,0.25 5.9,-0.2 6.5,-0.9" stroke-width="0.95"/></g>
<line x1="410.33" y1="387.79" x2="418.73" y2="387.79" stroke="#262626" stroke-width="0.9"/>
<line x1="410.33" y1="390.54" x2="418.73" y2="390.54" stroke="#262626" stroke-width="0.9"/>
<text x="423.24" y="392.36" font-size="13.1" fill="#262626">5</text>
<rect x="385.60" y="401.06" width="7.76" height="7.76" fill="#8172B3"/>
<rect x="388.53" y="399.04" width="1.90" height="11.90" fill="#8172B3"/>
<g transform="translate(398.63,409.64)" fill="none" stroke="#1a1a1a" stroke-linecap="round"><path d="M0.55,-0.05 L1.8,-5.35" stroke-width="1.35"/><path d="M1.6,-2.7 C3,-3.3 4.2,-4.8 5.6,-5.3" stroke-width="0.85"/><circle cx="5.75" cy="-4.95" r="0.85" fill="#1a1a1a" stroke="none"/><path d="M2.4,-3.0 C3.4,-2.4 3.3,-0.6 4.2,-0.15 C5.0,0.25 5.9,-0.2 6.5,-0.9" stroke-width="0.95"/></g>
<line x1="410.33" y1="405.37" x2="418.73" y2="405.37" stroke="#262626" stroke-width="0.9"/>
<line x1="410.33" y1="408.12" x2="418.73" y2="408.12" stroke="#262626" stroke-width="0.9"/>
<text x="423.75" y="409.94" font-size="13.1" fill="#262626">10</text>
<rect x="46.17" y="48.80" width="192.69" height="141.07" fill="none" stroke="#262626" stroke-width="1.0"/>
<rect x="323.20" y="48.80" width="196.20" height="141.10" fill="none" stroke="#262626" stroke-width="1.0"/>
<rect x="46.13" y="296.25" width="196.64" height="141.20" fill="none" stroke="#262626" stroke-width="1.0"/>
<rect x="323.13" y="296.25" width="196.27" height="141.18" fill="none" stroke="#262626" stroke-width="1.0"/>
</svg>
</body></html>
